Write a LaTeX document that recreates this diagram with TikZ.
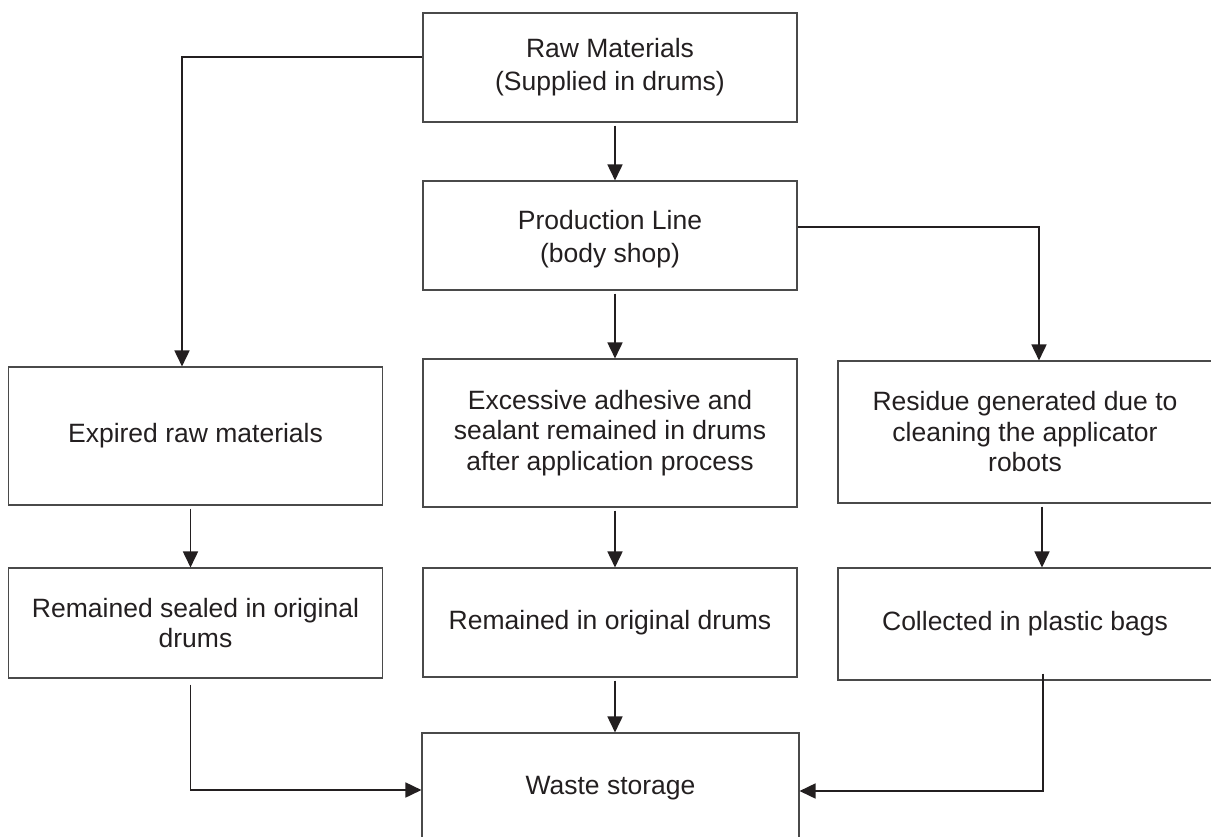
\documentclass[tikz,border=0pt]{standalone}
\usepackage{fontspec}
\setmainfont{Liberation Sans}
\usetikzlibrary{arrows.meta}
\definecolor{boxgray}{HTML}{4A4A4A}
\definecolor{lin}{HTML}{231F20}
\definecolor{txt}{HTML}{231F20}
\begin{document}
\begin{tikzpicture}[x=1pt,y=-1pt,
  box/.style={draw=boxgray, line width=1.1pt, minimum width=374pt, align=center,
    inner sep=0pt, text=txt, font=\fontsize{26.5}{30.5}\selectfont},
  wide/.style={font=\fontsize{26.5}{33}\selectfont},
  lbl/.style={align=center, inner sep=0pt, text=txt, font=\fontsize{26.5}{33}\selectfont},
  arr/.style={draw=lin, line width=1.7pt, -{Triangle[length=16pt,width=15pt]}},
  ln/.style={draw=lin, line width=1.7pt}]
\useasboundingbox (0,0) rectangle (1211,836);
\clip (0,0) rectangle (1211,836);
% boxes
\node[box, wide, minimum height=109pt] (rm) at (610,67.5) {Raw Materials\\(Supplied in drums)};
\node[box, minimum height=109pt] (pl) at (610,235.5) {};
\node[lbl] (plt) at (610,239.5) {Production Line\\(body shop)};
\node[box, minimum height=138pt] (exp) at (195.5,436) {Expired raw materials};
\node[box, minimum height=148pt] (exc) at (610,433) {Excessive adhesive and\\sealant remained in drums\\after application process};
\node[box, minimum height=142pt] (res) at (1025,432) {Residue generated due to\\cleaning the applicator\\robots};
\node[box, minimum height=110pt] (seal) at (195.5,623) {Remained sealed in original\\drums};
\node[box, minimum height=109pt] (rem) at (610,622.5) {Remained in original drums};
\node[box, minimum height=112pt] (col) at (1025,624) {Collected in plastic bags};
\node[box, minimum width=377pt, minimum height=110pt] (waste) at (610.5,788) {Waste storage};
% helper coordinates
\coordinate (cm) at (615,0);
\coordinate (cl) at (190.5,0);
\coordinate (cr) at (1042,0);
\coordinate (j1) at (182,57);
\coordinate (j2) at (1039,227);
\coordinate (j3) at (190.5,790);
\coordinate (j4) at (1043,791);
% connectors
\draw[arr] (rm.west |- j1) -- (j1) -- (j1 |- exp.north);
\draw[arr, shorten <=3pt] (rm.south -| cm) -- (pl.north -| cm);
\draw[arr] (pl.east |- j2) -- (j2) -- (j2 |- res.north);
\draw[arr, shorten <=3pt] (pl.south -| cm) -- (exc.north -| cm);
\draw[arr, shorten <=3pt] (exp.south -| cl) -- (seal.north -| cl);
\draw[arr, shorten <=3pt] (exc.south -| cm) -- (rem.north -| cm);
\draw[arr, shorten <=3pt] (res.south -| cr) -- (col.north -| cr);
\draw[arr, shorten <=3pt] (rem.south -| cm) -- (waste.north -| cm);
\draw[arr, shorten <=6pt] (seal.south -| j3) -- (j3) -- (waste.west |- j3);
\draw[arr] ([yshift=7pt]col.south -| j4) -- (j4) -- (waste.east |- j4);
\end{tikzpicture}
\end{document}
